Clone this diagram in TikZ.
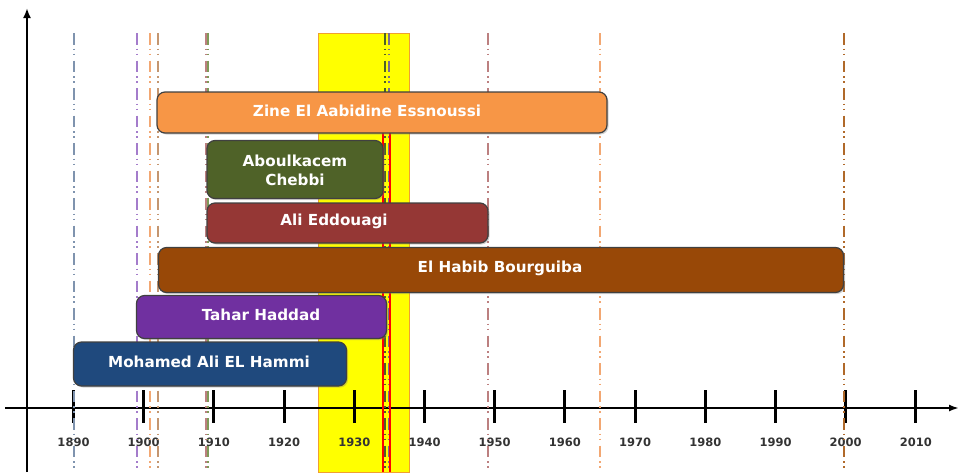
\documentclass[tikz,border=0pt]{standalone}
\usepackage{fontspec}
\setmainfont{DejaVu Sans}
\usetikzlibrary{shadows,arrows.meta}
\definecolor{cEss}{HTML}{F79646}
\definecolor{cChe}{HTML}{4F6228}
\definecolor{cEdd}{HTML}{953735}
\definecolor{cBou}{HTML}{984807}
\definecolor{cHad}{HTML}{7030A0}
\definecolor{cHam}{HTML}{1F497D}
\definecolor{lHam}{HTML}{7F93AE}
\definecolor{lHad}{HTML}{A47CCB}
\definecolor{lEss}{HTML}{F2A772}
\definecolor{lBou}{HTML}{C49670}
\definecolor{lEdd}{HTML}{BC8080}
\definecolor{lChe}{HTML}{7F9A58}
\definecolor{lBouD}{HTML}{B0692A}
\definecolor{lCheD}{HTML}{4F6228}
\definecolor{lHadD}{HTML}{7A6A8E}
\definecolor{band}{HTML}{FFFF00}
\definecolor{bandborder}{HTML}{F0A030}
\tikzset{
  pbox/.style={draw=black!75, line width=1.2pt, rounded corners=8pt, inner sep=0pt,
    drop shadow={opacity=.35, shadow xshift=1.5pt, shadow yshift=-1.5pt}},
  lbl/.style={text=white, font=\bfseries\fontsize{15.2}{19}\selectfont, align=center, inner sep=0pt},
  life/.style={line width=2.4pt, dash pattern=on 11.5pt off 4pt on 1.5pt off 3.5pt on 1.5pt off 5.5pt},
  redline/.style={draw=red, line width=2pt},
  tickmark/.style={line width=3pt, black},
  yearlbl/.style={font=\bfseries\fontsize{11.5}{14}\selectfont, text=black!80, inner sep=0pt}
}
\begin{document}
\begin{tikzpicture}[x=1pt,y=-1pt]
\useasboundingbox (0,0) rectangle (961,472);
% highlight band
\fill[band, draw=bandborder, line width=0.8pt] (318,33) rectangle (409,472);
% axes
\coordinate (hs) at (5,408); \coordinate (he) at (959,408);
\coordinate (vs) at (27,472); \coordinate (ve) at (27,8);
\draw[line width=2pt, -{Latex[length=10pt,width=7pt]}] (hs) -- (he);
\draw[line width=2.8pt, -{Latex[length=10pt,width=8pt]}] (vs) -- (ve);
% ticks and year labels
\foreach \i/\yr in {0/1890,1/1900,2/1910,3/1920,4/1930,5/1940,6/1950,7/1960,8/1970,9/1980,10/1990,11/2000,12/2010}{
  \pgfmathsetmacro{\xx}{73.5+70.2*\i}
  \coordinate (t\yr a) at (\xx,390);
  \coordinate (t\yr b) at (\xx,423);
  \draw[tickmark] (t\yr a) -- (t\yr b);
  \node[yearlbl] (y\yr) at (\xx,442) {\yr};
}
% life lines
\foreach \xx/\cc in {74/lHam,137/lHad,150/lEss,158/lBou,206/lEdd,385/lCheD,389/lHadD,488/lEdd,600/lEss,844/lBouD}{
  \draw[life, \cc] (\xx,33) -- (\xx,472);
}
\draw[life, lChe, line width=1.2pt] (208,33) -- (208,472);
% red lines
\coordinate (r1t) at (383,100); \coordinate (r1b) at (383,472);
\coordinate (r2t) at (390,100); \coordinate (r2b) at (390,472);
\draw[redline] (r1t) -- (r1b);
\draw[redline] (r2t) -- (r2b);
% boxes
\node[pbox, fill=cEss, minimum width=450pt, minimum height=41pt] (ess) at (382,112.5) {};
\node[lbl] (essT) at (367,111) {Zine El Aabidine Essnoussi};
\node[pbox, fill=cChe, minimum width=176pt, minimum height=58pt] (che) at (295,169.5) {};
\node[lbl] (cheT) at (295,170.5) {Aboulkacem\\Chebbi};
\node[pbox, fill=cEdd, minimum width=281pt, minimum height=40pt] (edd) at (347.5,223) {};
\node[lbl] (eddT) at (334,221.5) {Ali Eddouagi};
\node[pbox, fill=cBou, minimum width=685pt, minimum height=45pt] (bou) at (501,270) {};
\node[lbl] (bouT) at (500,268.5) {El Habib Bourguiba};
\node[pbox, fill=cHad, minimum width=250pt, minimum height=43pt] (had) at (261.5,317) {};
\node[lbl] (hadT) at (261,314.5) {Tahar Haddad};
\node[pbox, fill=cHam, minimum width=273pt, minimum height=44pt] (ham) at (210,364) {};
\node[lbl] (hamT) at (209,362) {Mohamed Ali EL Hammi};
\end{tikzpicture}
\end{document}
